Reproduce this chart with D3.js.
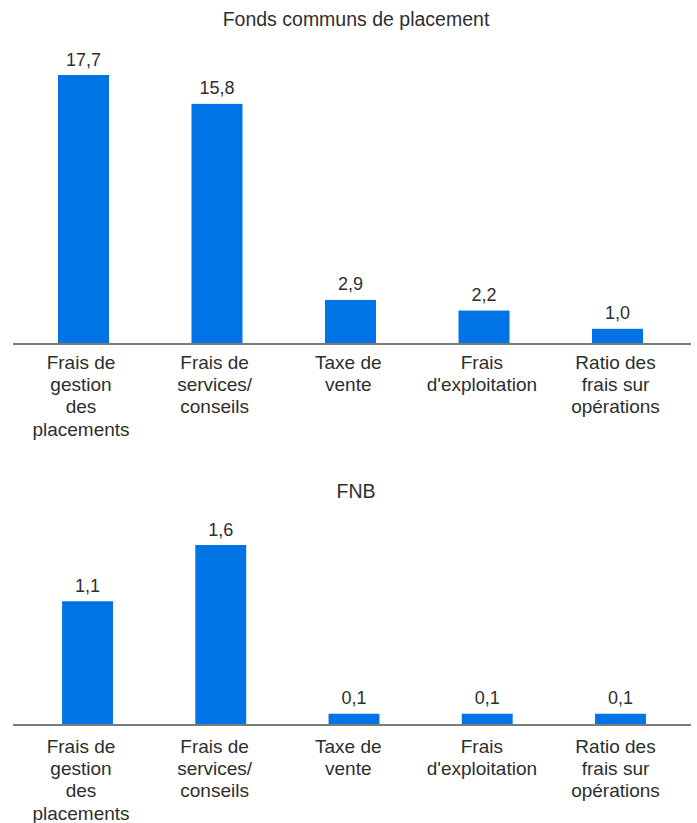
<!DOCTYPE html>
<html>
<head>
<meta charset="utf-8">
<script src="https://cdn.jsdelivr.net/npm/d3@7/dist/d3.min.js"></script>
<style>
  html, body { margin: 0; padding: 0; background: #ffffff; }
  svg { display: block; }
  text { font-family: "Liberation Sans", Arial, sans-serif; fill: #2e2e2e; }
</style>
</head>
<body>
<svg id="chart" width="697" height="823"></svg>
<script>
// Category labels (shared by both panels), one array entry per text line
const categories = [
  ["Frais de", "gestion", "des", "placements"],
  ["Frais de", "services/", "conseils"],
  ["Taxe de", "vente"],
  ["Frais", "d'exploitation"],
  ["Ratio des", "frais sur", "opérations"]
];
const categoryKeys = ["gestion", "services", "taxe", "exploitation", "ratio"];

// Fee values, mutual funds vs ETFs
const fondsValues = [17.7, 15.8, 2.9, 2.2, 1.0];
const fnbValues = [1.1, 1.6, 0.1, 0.1, 0.1];

const panelTitles = ["Fonds communs de placement", "FNB"];

const fmt = v => d3.format(".1f")(v).replace(".", ",");
const BAR_COLOR = "#0073E6";
const AXIS_COLOR = "#7a7a7a";

const svg = d3.select("#chart");

// Category label column positions, common to both panels
const labelX = d3.scalePoint()
  .domain(categoryKeys)
  .range([81, 615.5]);

const panels = [
  { title: panelTitles[0], values: fondsValues, titleY: 26, base: 344, top: 75,
    xRange: [16.75, 684.25], labelOffset: 25 },
  { title: panelTitles[1], values: fnbValues, titleY: 498, base: 725, top: 545,
    xRange: [20.9, 687.1], labelOffset: 28 }
];

panels.forEach(p => {
  const g = svg.append("g");

  const x = d3.scaleBand()
    .domain(categoryKeys)
    .range(p.xRange)
    .paddingInner(0.618)
    .paddingOuter(0.309);

  const y = d3.scaleLinear()
    .domain([0, d3.max(p.values)])
    .range([p.base, p.top]);

  const data = categoryKeys.map((k, i) => ({ key: k, value: p.values[i], lines: categories[i] }));

  // Panel title
  g.append("text")
    .attr("x", 356)
    .attr("y", p.titleY)
    .attr("text-anchor", "middle")
    .style("font-size", "19.5px")
    .text(p.title);

  // Bars
  g.selectAll("rect.bar")
    .data(data)
    .join("rect")
    .attr("class", "bar")
    .attr("x", d => x(d.key))
    .attr("width", x.bandwidth())
    .attr("y", d => y(d.value))
    .attr("height", d => y(0) - y(d.value))
    .attr("fill", BAR_COLOR);

  // Value labels
  g.selectAll("text.val")
    .data(data)
    .join("text")
    .attr("class", "val")
    .attr("x", d => x(d.key) + x.bandwidth() / 2)
    .attr("y", d => y(d.value) - 9.5)
    .attr("text-anchor", "middle")
    .style("font-size", "18px")
    .text(d => fmt(d.value));

  // Baseline axis
  g.append("line")
    .attr("x1", 13)
    .attr("x2", 691)
    .attr("y1", y(0))
    .attr("y2", y(0))
    .attr("stroke", AXIS_COLOR)
    .attr("stroke-width", 2);

  // Multi-line category labels
  const lbl = g.selectAll("text.cat")
    .data(data)
    .join("text")
    .attr("class", "cat")
    .attr("text-anchor", "middle")
    .style("font-size", "19px");

  lbl.each(function(d) {
    const t = d3.select(this);
    d.lines.forEach((line, i) => {
      t.append("tspan")
        .attr("x", labelX(d.key))
        .attr("y", y(0) + p.labelOffset + i * 22.2)
        .text(line);
    });
  });
});
</script>
</body>
</html>
